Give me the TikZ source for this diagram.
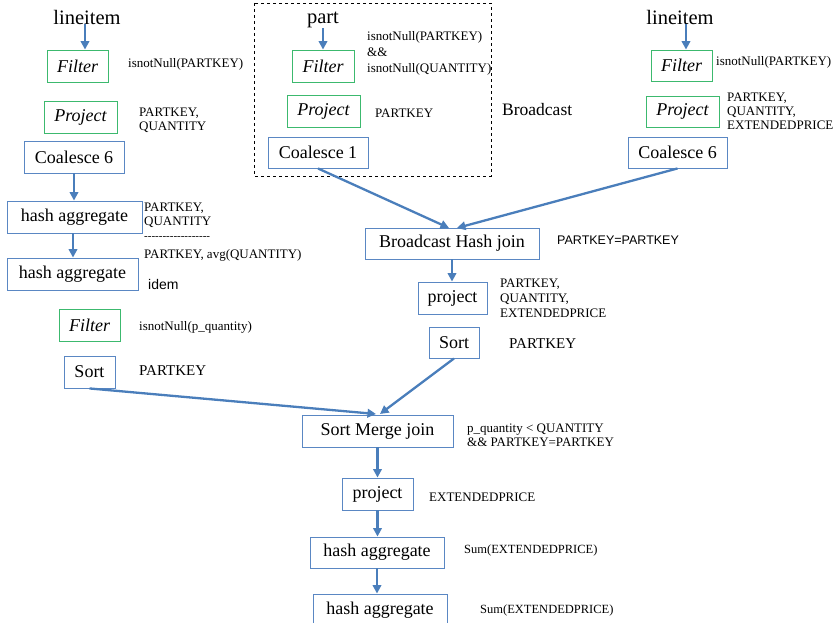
\documentclass[tikz,border=0pt]{standalone}
\usepackage{fontspec}
\setmainfont{Liberation Serif}
\newfontfamily\arialfont{Liberation Sans}
\usetikzlibrary{arrows.meta}
\definecolor{arrblue}{RGB}{74,126,187}
\definecolor{boxblue}{RGB}{90,135,195}
\definecolor{boxgreen}{RGB}{60,185,110}
\newcommand{\hy}{-\kern0pt}
\tikzset{
  opbox/.style={draw=boxblue, line width=0.9pt, inner sep=0pt, font=\fontsize{18}{20}\selectfont},
  gbox/.style={draw=boxgreen, line width=0.9pt, inner sep=0pt, font=\fontsize{18}{20}\selectfont\itshape},
  src/.style={inner sep=0pt, font=\fontsize{20.5}{22}\selectfont},
  lbl/.style={inner sep=0pt, anchor=west, align=left, font=\fontsize{13}{14}\selectfont},
  lblbig/.style={inner sep=0pt, anchor=west, font=\fontsize{15}{17}\selectfont},
  arr/.style={draw=arrblue, line width=2.3pt, -{Triangle[length=8.5pt,width=8.5pt]}},
}
\begin{document}
\begin{tikzpicture}[x=1pt,y=-1pt]
\useasboundingbox (0,0) rectangle (836,623);
% broadcast dashed frame
\draw[dashed, line width=0.8pt] (254,3) rectangle (491,176);

% left column
\node[src] (lineL) at (87,17) {lineitem};
\node[gbox, minimum width=61pt, minimum height=32pt] (filterL) at (77.5,66) {Filter};
\node[gbox, minimum width=73pt, minimum height=32pt] (projL) at (80.5,117) {Project};
\node[opbox, minimum width=100pt, minimum height=32pt] (coalL) at (74,157) {Coalesce 6};
\node[opbox, minimum width=135pt, minimum height=32pt] (haggL1) at (74.5,217) {hash aggregate};
\node[opbox, minimum width=131pt, minimum height=32pt] (haggL2) at (72.5,274) {hash aggregate};
\node[gbox, minimum width=61pt, minimum height=32pt] (filterL2) at (89.5,325) {Filter};
\node[opbox, minimum width=51pt, minimum height=32pt] (sortL) at (89.5,372) {Sort};

\node[lbl] (lfl) at (128,64) {isnotNull(PARTKEY)};
\node[lbl] (lpl) at (139,120) {PARTKEY,\\QUANTITY};
\node[lbl] (lh1) at (144,215.5) {PARTKEY,\\QUANTITY};
\node[lbl, font=\fontsize{11}{12}\selectfont] (ldash) at (144,238) {\hy\hy\hy\hy\hy\hy\hy\hy\hy\hy\hy\hy\hy\hy\hy\hy\hy\hy};
\node[lbl] (lh1b) at (144,255) {PARTKEY, avg(QUANTITY)};
\node[inner sep=0pt, anchor=west, font=\arialfont\fontsize{14}{16}\selectfont] (lidem) at (148,284) {idem};
\node[lbl] (lf2) at (139,327) {isnotNull(p\_quantity)};
\node[lblbig] (lsl) at (139,371) {PARTKEY};

% middle (broadcast side)
\node[src] (part) at (323,20) {part};
\node[gbox, minimum width=62pt, minimum height=32pt] (filterM) at (323,66) {Filter};
\node[gbox, minimum width=73pt, minimum height=32pt] (projM) at (323.5,111) {Project};
\node[opbox, minimum width=100pt, minimum height=31pt] (coalM) at (318,152.5) {Coalesce 1};
\node[inner sep=0pt, anchor=west, align=left, font=\fontsize{13}{16}\selectfont] (lfm) at (367,53) {isnotNull(PARTKEY)\\\&\&\\isnotNull(QUANTITY)};
\node[lbl] (lpm) at (375,113) {PARTKEY};
\node[inner sep=0pt, anchor=west, font=\fontsize{17.5}{20}\selectfont] (lbc) at (502,110) {Broadcast};

% right column
\node[src] (lineR) at (680,17) {lineitem};
\node[gbox, minimum width=61pt, minimum height=31pt] (filterR) at (681.5,65.5) {Filter};
\node[gbox, minimum width=73pt, minimum height=31pt] (projR) at (682.5,111.5) {Project};
\node[opbox, minimum width=99pt, minimum height=31pt] (coalR) at (677.5,152.5) {Coalesce 6};
\node[lbl] (lfr) at (716,62) {isnotNull(PARTKEY)};
\node[lbl] (lpr) at (727,111) {PARTKEY,\\QUANTITY,\\EXTENDEDPRICE};

% join part
\node[opbox, minimum width=174pt, minimum height=31pt] (bhj) at (452,243.5) {Broadcast Hash join};
\node[inner sep=0pt, anchor=west, font=\arialfont\fontsize{12.5}{14}\selectfont] (lbhj) at (557,240) {PARTKEY=PARTKEY};
\node[opbox, minimum width=69pt, minimum height=32pt] (projB) at (452.5,298) {project};
\node[inner sep=0pt, anchor=west, align=left, font=\fontsize{13}{15}\selectfont] (lpb) at (500,298) {PARTKEY,\\QUANTITY,\\EXTENDEDPRICE};
\node[opbox, minimum width=50pt, minimum height=31pt] (sortB) at (454,342.5) {Sort};
\node[lblbig] (lsb) at (509,344) {PARTKEY};

\node[opbox, minimum width=151pt, minimum height=32pt] (smj) at (377.5,431) {Sort Merge join};
\node[lbl] (lsmj) at (467,435) {p\_quantity < QUANTITY\\\&\& PARTKEY=PARTKEY};
\node[opbox, minimum width=71pt, minimum height=32pt] (projS) at (377.5,494) {project};
\node[lbl] (lps) at (429,497) {EXTENDEDPRICE};
\node[opbox, minimum width=134pt, minimum height=31pt] (haggS1) at (377,552.5) {hash aggregate};
\node[lbl, font=\fontsize{12.5}{14}\selectfont] (lhs1) at (464,550) {Sum(EXTENDEDPRICE)};
\node[opbox, minimum width=134pt, minimum height=32pt] (haggS2) at (380,610) {hash aggregate};
\node[lbl, font=\fontsize{12.5}{14}\selectfont] (lhs2) at (480,610) {Sum(EXTENDEDPRICE)};

% helper coordinates for join arrow ends
\coordinate (bhjL) at (449,228);
\coordinate (bhjR) at (457,228);
\coordinate (smjL) at (376,414);
\coordinate (smjR) at (380,414);

% connectors
\draw[arr] (lineL.south -| 85,0) -- (filterL.north -| 85,0);
\draw[arr] (part.south) -- (part.south |- filterM.north);
\draw[arr] (lineR.south -| 686,0) -- (filterR.north -| 686,0);
\draw[arr] (coalL.south) -- (haggL1.north -| coalL.south);
\draw[arr] (haggL1.south -| 73,0) -- (haggL2.north -| 73,0);
\draw[arr] (coalM.south) -- (bhjL);
\draw[arr] (coalR.south) -- (bhjR);
\draw[arr] (bhj.south) -- (bhj.south |- projB.north);
\draw[arr] (sortL.south) -- (smjL);
\draw[arr] (sortB.south) -- (smjR);
\draw[arr] (smj.south) -- (smj.south |- projS.north);
\draw[arr] (projS.south) -- (projS.south |- haggS1.north);
\draw[arr] (haggS1.south) -- (haggS1.south |- haggS2.north);
\end{tikzpicture}
\end{document}
